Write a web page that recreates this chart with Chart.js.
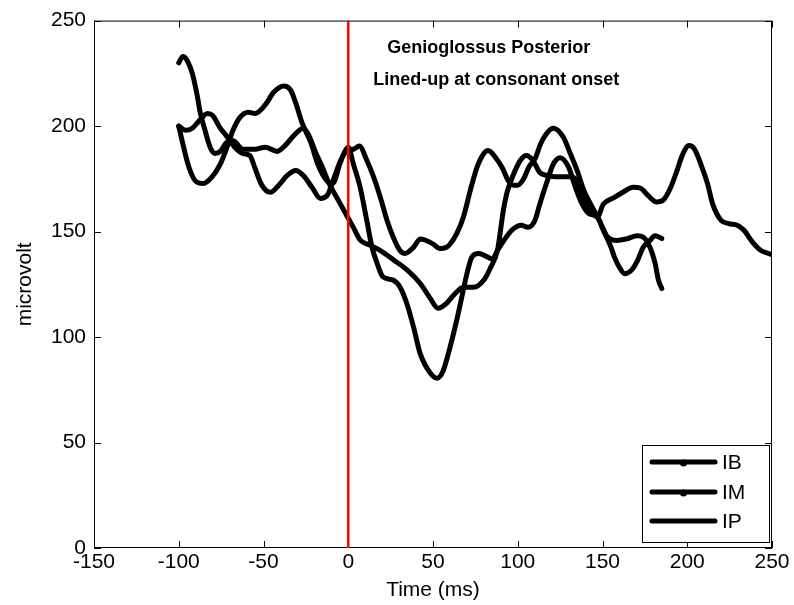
<!DOCTYPE html>
<html>
<head>
<meta charset="utf-8">
<script src="https://cdn.jsdelivr.net/npm/chart.js@4.4.0/dist/chart.umd.min.js"></script>
<style>
  body { margin: 0; background: #fff; }
  #wrap { width: 794px; height: 605px; }
</style>
</head>
<body>
<div id="wrap"><canvas id="emg" width="794" height="605"></canvas></div>
<script>
// IB
const ibTime = [-100, -98, -94, -89.5, -85.5, -80.5, -75.5, -71.5, -68, -64, -59, -55, -49, -44, -38, -34, -31, -27, -22, -18, -12.5, -9, -5, -2, 0, 3, 7, 11, 14, 17, 20.5, 26.5, 30.5, 34.5, 38.5, 42.5, 48.5, 52.5, 56, 60, 64, 67, 70, 73, 77, 82, 85, 88, 92, 97, 102, 106, 110, 113, 117, 121, 125, 130, 134, 138, 142, 147, 150.5, 155, 157, 160, 163, 167, 170.5, 174, 178, 181, 185];
const ibValue = [200, 193, 180.5, 173.5, 172.8, 175.8, 182, 190, 198, 204, 206.6, 206, 210, 216, 219, 217, 211, 201, 192, 182, 174, 173, 182, 188, 190, 182, 171, 155, 142.6, 135, 128.5, 127, 123.7, 116, 104.8, 92, 82.8, 80.5, 84, 95, 108, 119, 130, 138, 139.6, 138, 137, 141, 146, 151, 153, 152, 155, 163, 173, 182, 185, 180.5, 171, 163, 158.5, 157, 150.6, 142.6, 138, 133, 130, 131.6, 136, 142.6, 145.8, 148, 146.7];

// IM
const imTime = [-100, -96, -92, -88.5, -83, -80, -75.5, -71.5, -67, -62, -58, -55, -51, -46, -41, -36, -31, -26.5, -21, -16.5, -12.5, -9, -4.5, -0.5, 3, 6.5, 11, 15, 19, 23, 26.5, 30.5, 33.5, 38.5, 42.5, 49.5, 54, 58, 60, 64, 68, 72, 76, 80, 82.5, 87, 91, 94.5, 97.5, 100, 103.5, 106.5, 110.5, 113.5, 117.5, 121, 127, 131, 135, 139, 143, 147, 150, 153, 158.5, 164.5, 170.5, 174, 178, 181, 183, 185];
const imValue = [200, 198, 199, 202, 206, 205, 199, 195, 190, 187, 186, 180, 172, 168.6, 172, 176.6, 179, 176.6, 170.5, 165.7, 167, 174, 183.7, 188.5, 189, 190.5, 183.7, 175.8, 166, 155, 147.4, 141, 139.6, 142.5, 146.5, 144.4, 142, 142.6, 144, 149, 157, 169.5, 180.5, 187, 188.4, 185, 180, 174, 172, 172, 175, 180.5, 185, 191.6, 197, 199, 194.6, 187, 179, 169.5, 163, 157, 152, 147.4, 145.8, 146.6, 148, 147.4, 142.6, 135, 127, 123];

// IP
const ipTime = [-100, -97.5, -95, -92, -89, -87.5, -84.5, -81.5, -78.5, -75.5, -72, -68, -62, -55, -49, -42, -37, -32, -26.5, -23.5, -19.5, -15, -12, -6, -0.5, 3, 7, 13, 19, 27, 35, 42.5, 48, 53, 58, 62, 68, 74, 80, 84, 88, 91.5, 93.5, 95.5, 98.5, 101.5, 105, 109, 113, 117, 122, 131, 135, 139, 143, 147, 150.5, 156.5, 162, 168, 172.5, 177, 182, 186, 190, 194, 197, 201, 204, 208, 212, 215, 220, 224.5, 229.5, 233.5, 238.5, 243.5, 248, 250];
const ipValue = [230, 233, 231, 225, 214, 207, 198, 190, 187, 188, 192, 193, 189, 189, 190, 188, 191, 195.6, 199, 196, 188, 180, 174, 165, 157, 152, 146, 143.5, 141, 136.4, 131.6, 125.4, 118.8, 113.6, 116, 119.7, 123.6, 123.6, 127, 133, 141, 160, 168, 173, 179, 183.7, 186, 183.6, 178, 176.6, 176, 176, 174, 166, 160, 157, 163, 166, 168.6, 171, 170.5, 167, 164, 165, 170.5, 179, 186, 190.8, 189.4, 182, 172.6, 163, 155.3, 153.8, 153, 150.6, 145, 141, 139.6, 139];

// consonant onset marker
const onsetTime = [0, 0];
const onsetValue = [0, 250];

const xTicks = [-150, -100, -50, 0, 50, 100, 150, 200, 250];
const yTicks = [0, 50, 100, 150, 200, 250];
const seriesNames = ["IB", "IM", "IP"];
const legendDots = [true, true, false];
const titleLines = ["Genioglossus Posterior", "Lined-up at consonant onset"];

const FONT = "'Liberation Sans', Arial, Helvetica, sans-serif";

function toPoints(xs, ys) {
  return xs.map((x, i) => ({ x: x, y: ys[i] }));
}

function curve(label, xs, ys, order) {
  return {
    label: label,
    data: toPoints(xs, ys),
    borderColor: "#000",
    borderWidth: 5,
    pointRadius: 0,
    cubicInterpolationMode: "monotone",
    borderCapStyle: "round",
    borderJoinStyle: "round",
    order: order,
  };
}

// box round the axes with inward ticks, like matlab
const frame = {
  id: "frame",
  beforeDatasetsDraw(chart) {
    const { ctx, chartArea: a, scales } = chart;
    const x = scales.x;
    const y = scales.y;
    ctx.save();
    ctx.strokeStyle = "#000";
    ctx.lineWidth = 1;
    ctx.strokeRect(a.left + 0.5, a.top + 0.5, a.width - 1, a.height - 1);
    ctx.beginPath();
    xTicks.forEach((v) => {
      const px = Math.round(x.getPixelForValue(v)) + 0.5;
      ctx.moveTo(px, a.bottom);
      ctx.lineTo(px, a.bottom - 7);
      ctx.moveTo(px, a.top);
      ctx.lineTo(px, a.top + 7);
    });
    yTicks.forEach((v) => {
      const py = Math.round(y.getPixelForValue(v)) + 0.5;
      ctx.moveTo(a.left, py);
      ctx.lineTo(a.left + 7, py);
      ctx.moveTo(a.right, py);
      ctx.lineTo(a.right - 7, py);
    });
    ctx.stroke();
    ctx.restore();
  },
  afterDatasetsDraw(chart) {
    const { ctx, scales } = chart;
    const x = scales.x;
    const y = scales.y;
    // title text inside the axes
    ctx.save();
    ctx.fillStyle = "#000";
    ctx.font = "bold 18px " + FONT;
    ctx.textBaseline = "middle";
    ctx.textAlign = "left";
    ctx.fillText(titleLines[0], x.getPixelForValue(23), y.getPixelForValue(237));
    ctx.fillText(titleLines[1], x.getPixelForValue(14.8), y.getPixelForValue(222));
    ctx.restore();
  },
  afterDraw(chart) {
    const { ctx, chartArea: a } = chart;
    const left = a.right - 130;
    const right = a.right - 3;
    const top = a.bottom - 103;
    const bottom = a.bottom - 6;
    ctx.save();
    ctx.fillStyle = "#fff";
    ctx.fillRect(left, top, right - left, bottom - top);
    ctx.strokeStyle = "#000";
    ctx.lineWidth = 1;
    ctx.strokeRect(left + 0.5, top + 0.5, right - left, bottom - top);
    const rows = [bottom - 80, bottom - 50, bottom - 21];
    ctx.font = "21px " + FONT;
    ctx.textBaseline = "middle";
    ctx.textAlign = "left";
    seriesNames.forEach((name, i) => {
      const ry = rows[i];
      ctx.beginPath();
      ctx.lineWidth = 5;
      ctx.lineCap = "round";
      ctx.moveTo(left + 10, ry);
      ctx.lineTo(left + 73, ry);
      ctx.stroke();
      if (legendDots[i]) {
        ctx.beginPath();
        ctx.fillStyle = "#000";
        ctx.arc(left + 41.5, ry + 1, 3.5, 0, Math.PI * 2);
        ctx.fill();
      }
      ctx.fillStyle = "#000";
      ctx.fillText(name, left + 80, ry + 1);
    });
    ctx.restore();
  },
};

const emg = document.getElementById("emg").getContext("2d");

let myChartEmg = new Chart(emg, {
  type: "line",
  data: {
    datasets: [
      {
        label: "onset",
        data: toPoints(onsetTime, onsetValue),
        borderColor: "#ff0000",
        borderWidth: 2.5,
        pointRadius: 0,
        order: 0,
      },
      curve(seriesNames[0], ibTime, ibValue, 1),
      curve(seriesNames[1], imTime, imValue, 2),
      curve(seriesNames[2], ipTime, ipValue, 3),
    ],
  },
  options: {
    responsive: false,
    animation: false,
    layout: {
      padding: { left: 0, top: 20, right: 22, bottom: 0 },
    },
    plugins: {
      legend: { display: false },
      tooltip: { enabled: false },
    },
    scales: {
      x: {
        type: "linear",
        min: -150,
        max: 250,
        afterFit: (scale) => {
          scale.height = 57;
        },
        afterBuildTicks: (scale) => {
          scale.ticks = xTicks.map((v) => ({ value: v }));
        },
        grid: { display: false, drawTicks: false },
        border: { display: false },
        ticks: {
          color: "#000",
          padding: 2,
          maxRotation: 0,
          font: { family: FONT, size: 21 },
        },
        title: {
          display: true,
          text: "Time (ms)",
          color: "#000",
          padding: { top: 2, bottom: 2 },
          font: { family: FONT, size: 21 },
        },
      },
      y: {
        type: "linear",
        min: 0,
        max: 250,
        afterFit: (scale) => {
          scale.width = 94;
        },
        afterBuildTicks: (scale) => {
          scale.ticks = yTicks.map((v) => ({ value: v }));
        },
        grid: { display: false, drawTicks: false },
        border: { display: false },
        ticks: {
          color: "#000",
          padding: 8,
          font: { family: FONT, size: 21 },
        },
        title: {
          display: true,
          text: "microvolt",
          color: "#000",
          padding: { top: 13, bottom: 0 },
          font: { family: FONT, size: 21 },
        },
      },
    },
  },
  plugins: [frame],
});
</script>
</body>
</html>
